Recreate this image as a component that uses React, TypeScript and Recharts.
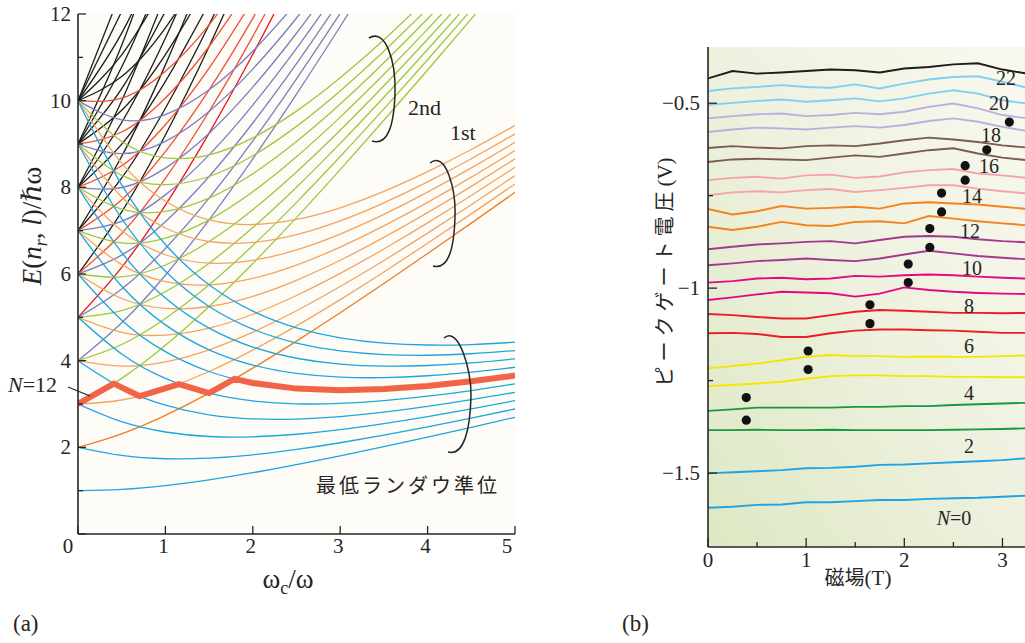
import React from "react";
import { LineChart, ComposedChart, Line, Scatter, XAxis, YAxis, CartesianGrid } from "recharts";

// ---------- panel (a): E(n_r, l)/hbar-omega vs omega_c/omega ----------
const omegaRatio = [0, 0.5, 1, 1.5, 2, 2.5, 3, 3.5, 4, 4.5, 5];

// lowest Landau level (cyan)
const level0 = [
  [1, 1.031, 1.118, 1.25, 1.414, 1.601, 1.803, 2.016, 2.236, 2.462, 2.693],
  [2, 1.812, 1.736, 1.75, 1.828, 1.952, 2.106, 2.281, 2.472, 2.674, 2.885],
  [3, 2.592, 2.354, 2.25, 2.243, 2.302, 2.408, 2.547, 2.708, 2.887, 3.078],
  [4, 3.373, 2.972, 2.75, 2.657, 2.653, 2.711, 2.812, 2.944, 3.099, 3.27],
  [5, 4.154, 3.59, 3.25, 3.071, 3.004, 3.014, 3.078, 3.18, 3.311, 3.463],
  [6, 4.935, 4.208, 3.75, 3.485, 3.355, 3.317, 3.344, 3.416, 3.523, 3.656],
  [7, 5.716, 4.826, 4.25, 3.899, 3.706, 3.62, 3.609, 3.652, 3.735, 3.848],
  [8, 6.496, 5.444, 4.75, 4.314, 4.056, 3.922, 3.875, 3.889, 3.948, 4.041],
  [9, 7.277, 6.062, 5.25, 4.728, 4.407, 4.225, 4.141, 4.125, 4.16, 4.233],
  [10, 8.058, 6.68, 5.75, 5.142, 4.758, 4.528, 4.406, 4.361, 4.372, 4.426],
];

// 1st level (orange); first one is the darker l = -1 branch
const level1 = [
  [2, 2.312, 2.736, 3.25, 3.828, 4.452, 5.106, 5.781, 6.472, 7.174, 7.885],
  [3, 3.092, 3.354, 3.75, 4.243, 4.802, 5.408, 6.047, 6.708, 7.387, 8.078],
  [4, 3.873, 3.972, 4.25, 4.657, 5.153, 5.711, 6.312, 6.944, 7.599, 8.27],
  [5, 4.654, 4.59, 4.75, 5.071, 5.504, 6.014, 6.578, 7.18, 7.811, 8.463],
  [6, 5.435, 5.208, 5.25, 5.485, 5.855, 6.317, 6.844, 7.416, 8.023, 8.656],
  [7, 6.216, 5.826, 5.75, 5.899, 6.206, 6.62, 7.109, 7.652, 8.235, 8.848],
  [8, 6.996, 6.444, 6.25, 6.314, 6.556, 6.922, 7.375, 7.889, 8.448, 9.041],
  [9, 7.777, 7.062, 6.75, 6.728, 6.907, 7.225, 7.641, 8.125, 8.66, 9.233],
  [10, 8.558, 7.68, 7.25, 7.142, 7.258, 7.528, 7.906, 8.361, 8.872, 9.426],
];

// 2nd level (green)
const level2 = [
  [3, 3.592, 4.354, 5.25, 6.243, 7.302, 8.408, 9.547, 10.708, 11.887, 13.078],
  [4, 4.373, 4.972, 5.75, 6.657, 7.653, 8.711, 9.812, 10.944, 12.099],
  [5, 5.154, 5.59, 6.25, 7.071, 8.004, 9.014, 10.078, 11.18, 12.311],
  [6, 5.935, 6.208, 6.75, 7.485, 8.355, 9.317, 10.344, 11.416, 12.523],
  [7, 6.716, 6.826, 7.25, 7.899, 8.706, 9.62, 10.609, 11.652, 12.735],
  [8, 7.496, 7.444, 7.75, 8.314, 9.056, 9.922, 10.875, 11.889, 12.948],
  [9, 8.277, 8.062, 8.25, 8.728, 9.407, 10.225, 11.141, 12.125],
  [10, 9.058, 8.68, 8.75, 9.142, 9.758, 10.528, 11.406, 12.361],
];

// 3rd level (purple)
const level3 = [
  [4, 4.873, 5.972, 7.25, 8.657, 10.153, 11.711, 13.312],
  [5, 5.654, 6.59, 7.75, 9.071, 10.504, 12.014],
  [6, 6.435, 7.208, 8.25, 9.485, 10.855, 12.317],
  [7, 7.216, 7.826, 8.75, 9.899, 11.206, 12.62],
  [8, 7.996, 8.444, 9.25, 10.314, 11.556, 12.922],
  [9, 8.777, 9.062, 9.75, 10.728, 11.907, 13.225],
  [10, 9.558, 9.68, 10.25, 11.142, 12.258],
];

// 4th level (red); first one is the bright red branch
const level4 = [
  [5, 6.154, 7.59, 9.25, 11.071, 13.004],
  [6, 6.935, 8.208, 9.75, 11.485, 13.355],
  [7, 7.716, 8.826, 10.25, 11.899, 13.706],
  [8, 8.496, 9.444, 10.75, 12.314],
  [9, 9.277, 10.062, 11.25, 12.728],
  [10, 10.058, 10.68, 11.75, 13.142],
];

// higher levels (black)
const levelHigh = [
  [6, 7.435, 9.208, 11.25, 13.485],
  [7, 8.216, 9.826, 11.75, 13.899],
  [8, 8.996, 10.444, 12.25],
  [9, 9.777, 11.062, 12.75],
  [10, 10.558, 11.68, 13.25],
  [7, 8.716, 10.826, 13.25],
  [8, 9.496, 11.444, 13.75],
  [9, 10.277, 12.062],
  [10, 11.058, 12.68],
  [8, 9.996, 12.444],
  [9, 10.777, 13.062],
  [10, 11.558, 13.68],
  [9, 11.277, 14.062],
  [10, 12.058],
  [10, 12.558],
];

// N = 12 addition energy (thick line)
const n12Ratio = [0, 0.41, 0.707, 1.155, 1.5, 1.79, 2, 2.5, 3, 3.5, 4, 4.5, 5];
const n12Energy = [3, 3.47, 3.18, 3.46, 3.25, 3.58, 3.485, 3.355, 3.317, 3.344, 3.416, 3.523, 3.656];

// ---------- panel (b): peak gate voltage vs field ----------
const fieldT = [0, 0.25, 0.5, 0.75, 1, 1.25, 1.5, 1.75, 2, 2.25, 2.5, 2.75, 3, 3.25];

// index = N (0 .. 22)
const peakVoltage = [
  [-1.594, -1.591, -1.586, -1.585, -1.579, -1.579, -1.576, -1.573, -1.573, -1.57, -1.568, -1.567, -1.564, -1.561],
  [-1.501, -1.498, -1.495, -1.492, -1.487, -1.486, -1.483, -1.478, -1.477, -1.474, -1.471, -1.468, -1.465, -1.46],
  [-1.384, -1.384, -1.383, -1.384, -1.384, -1.383, -1.384, -1.384, -1.384, -1.384, -1.383, -1.382, -1.381, -1.379],
  [-1.332, -1.328, -1.323, -1.323, -1.323, -1.323, -1.321, -1.321, -1.319, -1.319, -1.316, -1.314, -1.312, -1.31],
  [-1.265, -1.262, -1.258, -1.253, -1.245, -1.238, -1.236, -1.236, -1.238, -1.238, -1.24, -1.24, -1.241, -1.241],
  [-1.217, -1.211, -1.204, -1.195, -1.186, -1.181, -1.184, -1.184, -1.186, -1.185, -1.186, -1.186, -1.184, -1.182],
  [-1.122, -1.121, -1.124, -1.132, -1.132, -1.122, -1.115, -1.112, -1.112, -1.114, -1.115, -1.118, -1.121, -1.121],
  [-1.07, -1.073, -1.078, -1.082, -1.082, -1.073, -1.064, -1.059, -1.061, -1.064, -1.067, -1.067, -1.068, -1.067],
  [-1.032, -1.025, -1.017, -1.01, -1.012, -1.014, -1.023, -1.015, -0.998, -1.005, -1.01, -1.013, -1.015, -1.016],
  [-0.985, -0.981, -0.974, -0.972, -0.976, -0.974, -0.967, -0.969, -0.965, -0.963, -0.965, -0.969, -0.972, -0.974],
  [-0.938, -0.933, -0.927, -0.924, -0.92, -0.924, -0.927, -0.92, -0.909, -0.899, -0.906, -0.913, -0.918, -0.922],
  [-0.895, -0.888, -0.882, -0.879, -0.875, -0.873, -0.879, -0.87, -0.861, -0.859, -0.861, -0.868, -0.873, -0.876],
  [-0.834, -0.843, -0.834, -0.821, -0.83, -0.832, -0.821, -0.819, -0.825, -0.805, -0.812, -0.819, -0.825, -0.83],
  [-0.786, -0.801, -0.792, -0.778, -0.785, -0.783, -0.78, -0.785, -0.771, -0.768, -0.771, -0.774, -0.78, -0.786],
  [-0.749, -0.741, -0.738, -0.741, -0.735, -0.732, -0.74, -0.735, -0.729, -0.722, -0.722, -0.731, -0.738, -0.744],
  [-0.708, -0.702, -0.699, -0.704, -0.695, -0.693, -0.702, -0.698, -0.687, -0.681, -0.678, -0.69, -0.695, -0.702],
  [-0.659, -0.652, -0.65, -0.652, -0.654, -0.647, -0.641, -0.645, -0.636, -0.627, -0.622, -0.636, -0.647, -0.654],
  [-0.621, -0.616, -0.62, -0.622, -0.616, -0.614, -0.616, -0.609, -0.6, -0.593, -0.598, -0.605, -0.614, -0.62],
  [-0.578, -0.571, -0.566, -0.568, -0.571, -0.566, -0.562, -0.566, -0.559, -0.548, -0.541, -0.55, -0.564, -0.575],
  [-0.541, -0.535, -0.53, -0.528, -0.535, -0.532, -0.526, -0.53, -0.523, -0.51, -0.501, -0.514, -0.532, -0.541],
  [-0.505, -0.499, -0.494, -0.49, -0.496, -0.492, -0.487, -0.495, -0.487, -0.474, -0.465, -0.474, -0.492, -0.501],
  [-0.467, -0.46, -0.456, -0.451, -0.456, -0.458, -0.449, -0.46, -0.447, -0.436, -0.429, -0.427, -0.442, -0.458],
  [-0.433, -0.413, -0.42, -0.417, -0.413, -0.409, -0.411, -0.417, -0.406, -0.402, -0.395, -0.392, -0.409, -0.42],
];

// black dots
const dotT = [0.39, 0.39, 1.02, 1.02, 1.65, 1.65, 2.04, 2.04, 2.26, 2.26, 2.38, 2.38, 2.62, 2.62, 2.84, 3.07];
const dotV = [-1.296, -1.357, -1.17, -1.22, -1.045, -1.096, -0.935, -0.985, -0.839, -0.89, -0.743, -0.794, -0.669, -0.708, -0.626, -0.551];

// trace labels
const traceLabels = ["22", "20", "18", "16", "14", "12", "10", "8", "6", "4", "2"];

// ---------- styles ----------
const serif = '"Liberation Serif", "DejaVu Serif", "Times New Roman", serif';
const jp = '"Noto Sans CJK JP", sans-serif';
const ink = "#262626";
const frame = { stroke: ink, strokeWidth: 1.6 };
const serifStyle = { fontFamily: serif };
const jpStyle = { fontFamily: jp };

const levelColors = {
  cyan: "#1ba6e0",
  orange: "#f5a35e",
  darkOrange: "#ef7b22",
  green: "#9cc83e",
  purple: "#7b7ec2",
  red: "#ee5038",
  brightRed: "#e8141d",
  black: "#1c1c1c",
};
const pairColors = [
  "#1ea4e6", "#16993f", "#f6e500", "#ed1c24", "#e5097f", "#a3398f",
  "#f5821f", "#f5a3aa", "#7b5b52", "#b7b1dd", "#80d0f2", "#1c1c1c",
];

const toPoints = (ys: number[]) => ys.map((y, i) => ({ x: omegaRatio[i], y }));

// ---------- ticks ----------
function TickLeftA(p: any) {
  const v = p.payload.value;
  const major = v % 2 === 0;
  return (
    <g>
      <line x1={p.x} x2={p.x + (major ? 8 : 5)} y1={p.y} y2={p.y} stroke={ink} strokeWidth={1.3} />
      {major && v > 0 ? (
        <text x={p.x - 7} y={p.y + 7} textAnchor="end" fontSize={21} style={serifStyle} fill={ink}>
          {v}
        </text>
      ) : null}
    </g>
  );
}
function TickBottomA(p: any) {
  const v = p.payload.value;
  const shift = v === 0 ? -10 : v === 5 ? -8 : -2;
  return (
    <g>
      <line x1={p.x} x2={p.x} y1={p.y} y2={p.y - 8} stroke={ink} strokeWidth={1.3} />
      <text x={p.x + shift} y={p.y + 19} textAnchor="middle" fontSize={21} style={serifStyle} fill={ink}>
        {v}
      </text>
    </g>
  );
}
function TickTopA(p: any) {
  return <line x1={p.x} x2={p.x} y1={p.y} y2={p.y + 8} stroke={ink} strokeWidth={1.3} />;
}
function TickRightA(p: any) {
  return <line x1={p.x} x2={p.x - 7} y1={p.y} y2={p.y} stroke={ink} strokeWidth={1.3} />;
}

const isHalf = (v: number) => Math.abs(v * 2 - Math.round(v * 2)) < 1e-6;
const isWhole = (v: number) => Math.abs(v - Math.round(v)) < 1e-6;

function TickLeftB(p: any) {
  const v = p.payload.value;
  const major = isHalf(v);
  return (
    <g>
      <line x1={p.x} x2={p.x + (major ? 9 : 5)} y1={p.y} y2={p.y} stroke={ink} strokeWidth={1.3} />
      {major ? (
        <text x={p.x - 8} y={p.y + 7} textAnchor="end" fontSize={21} style={serifStyle} fill={ink}>
          {"\u2212" + Math.abs(v)}
        </text>
      ) : null}
    </g>
  );
}
function TickBottomB(p: any) {
  const v = p.payload.value;
  const major = isWhole(v);
  return (
    <g>
      <line x1={p.x} x2={p.x} y1={p.y} y2={p.y - (major ? 9 : 5)} stroke={ink} strokeWidth={1.3} />
      {major ? (
        <text x={p.x} y={p.y + 20} textAnchor="middle" fontSize={21} style={serifStyle} fill={ink}>
          {v}
        </text>
      ) : null}
    </g>
  );
}
function TickTopB(p: any) {
  return <line x1={p.x} x2={p.x} y1={p.y} y2={p.y + 6} stroke={ink} strokeWidth={1.3} />;
}
function TickRightB(p: any) {
  const major = isHalf(p.payload.value);
  return <line x1={p.x} x2={p.x - (major ? 9 : 5)} y1={p.y} y2={p.y} stroke={ink} strokeWidth={1.3} />;
}

const Dot = (p: any) => <circle cx={p.cx} cy={p.cy} r={4.6} fill="#111" />;

function PanelA() {
  const groups: { rows: number[][]; color: (i: number) => string }[] = [
    { rows: levelHigh, color: () => levelColors.black },
    { rows: level4, color: (i) => (i === 0 ? levelColors.brightRed : levelColors.red) },
    { rows: level3, color: () => levelColors.purple },
    { rows: level2, color: () => levelColors.green },
    { rows: level1, color: (i) => (i === 0 ? levelColors.darkOrange : levelColors.orange) },
    { rows: level0, color: () => levelColors.cyan },
  ];
  return (
    <LineChart width={530} height={643} margin={{ top: 14, right: 15, bottom: 79, left: 28 }}>
      <CartesianGrid horizontal={false} vertical={false} fill="#fdfcf7" />
      <XAxis
        dataKey="x" type="number" domain={[0, 5]} ticks={[0, 1, 2, 3, 4, 5]} interval={0}
        height={30} tickSize={0} tickMargin={0} tickLine={false} axisLine={frame}
        tick={(p: any) => <TickBottomA {...p} />} allowDataOverflow
      />
      <XAxis
        xAxisId="top" orientation="top" type="number" domain={[0, 5]} ticks={[1, 2, 3, 4]} interval={0}
        height={0} tickSize={0} tickMargin={0} tickLine={false} axisLine={frame}
        tick={(p: any) => <TickTopA {...p} />} allowDataOverflow
      />
      <YAxis
        type="number" domain={[0, 12]} ticks={[0, 1, 2, 3, 4, 5, 6, 7, 8, 9, 10, 11, 12]} interval={0}
        width={50} tickSize={0} tickMargin={0} tickLine={false} axisLine={frame}
        tick={(p: any) => <TickLeftA {...p} />} allowDataOverflow
      />
      <YAxis
        yAxisId="right" orientation="right" type="number" domain={[0, 12]}
        ticks={[1, 2, 3, 4, 5, 6, 7, 8, 9, 10, 11]} interval={0}
        width={0} tickSize={0} tickMargin={0} tickLine={false} axisLine={frame}
        tick={(p: any) => <TickRightA {...p} />} allowDataOverflow
      />
      {groups.map((g, gi) =>
        g.rows.map((row, i) => (
          <Line
            key={`g${gi}-${i}`}
            data={toPoints(row)}
            dataKey="y"
            type="natural"
            stroke={g.color(i)}
            strokeWidth={1.3}
            dot={false}
            activeDot={false}
            isAnimationActive={false}
          />
        ))
      )}
      <Line
        data={n12Ratio.map((x, i) => ({ x, y: n12Energy[i] }))}
        dataKey="y"
        type="linear"
        stroke="#f26448"
        strokeWidth={6}
        strokeLinejoin="round"
        dot={false}
        activeDot={false}
        isAnimationActive={false}
      />
    </LineChart>
  );
}

function PanelB() {
  return (
    <ComposedChart width={440} height={643} margin={{ top: 47, right: 13, bottom: 66, left: 48 }}>
      <defs>
        <linearGradient id="bgB" x1="1" y1="0" x2="0" y2="1">
          <stop offset="0" stopColor="#f9f9f0" />
          <stop offset="0.5" stopColor="#eef1de" />
          <stop offset="1" stopColor="#dde8c3" />
        </linearGradient>
      </defs>
      <CartesianGrid horizontal={false} vertical={false} fill="url(#bgB)" />
      <XAxis
        dataKey="t" type="number" domain={[0, 3.25]} ticks={[0, 0.5, 1, 1.5, 2, 2.5, 3]} interval={0}
        height={30} tickSize={0} tickMargin={0} tickLine={false} axisLine={frame}
        tick={(p: any) => <TickBottomB {...p} />} allowDataOverflow
      />
      <XAxis
        xAxisId="top" orientation="top" type="number" domain={[0, 3.25]} ticks={[0.5, 1, 1.5, 2, 2.5, 3]}
        interval={0} height={0} tickSize={0} tickMargin={0} tickLine={false} axisLine={frame}
        tick={(p: any) => <TickTopB {...p} />} allowDataOverflow
      />
      <YAxis
        dataKey="v" type="number" domain={[-1.7, -0.348]} ticks={[-1.5, -1.25, -1, -0.75, -0.5]} interval={0}
        width={60} tickSize={0} tickMargin={0} tickLine={false} axisLine={frame}
        tick={(p: any) => <TickLeftB {...p} />} allowDataOverflow
      />
      <YAxis
        yAxisId="right" orientation="right" type="number" domain={[-1.7, -0.348]}
        ticks={[-1.5, -1.25, -1, -0.75, -0.5]} interval={0}
        width={0} tickSize={0} tickMargin={0} tickLine={false} axisLine={frame}
        tick={(p: any) => <TickRightB {...p} />} allowDataOverflow
      />
      {peakVoltage.map((row, n) => (
        <Line
          key={`n${n}`}
          data={fieldT.map((t, i) => ({ t, v: row[i] }))}
          dataKey="v"
          type="linear"
          stroke={pairColors[Math.floor(n / 2)]}
          strokeWidth={1.9}
          dot={false}
          activeDot={false}
          isAnimationActive={false}
        />
      ))}
      <Scatter
        data={dotT.map((t, i) => ({ t, v: dotV[i] }))}
        shape={(p: any) => <Dot {...p} />}
        isAnimationActive={false}
      />
    </ComposedChart>
  );
}

// annotation text positions (page pixels)
const labelPos = [
  [1006, 85], [999, 110], [991, 142], [989, 173], [972, 203], [970, 238],
  [972, 275], [969, 313], [969, 353], [969, 400], [969, 453],
];

function Overlay() {
  return (
    <svg width={1025} height={643} style={{ position: "absolute", left: 0, top: 0, pointerEvents: "none" }}>
      {/* panel (a) titles */}
      <text transform="translate(41,226) rotate(-90)" textAnchor="middle" fontSize={27} style={serifStyle} fill={ink}>
        <tspan fontStyle="italic">E</tspan>(<tspan fontStyle="italic">n</tspan>
        <tspan fontStyle="italic" fontSize={18} dy={6}>r</tspan>
        <tspan dy={-6}>, </tspan>
        <tspan fontStyle="italic">l</tspan>)/<tspan fontStyle="italic">ℏ</tspan>ω
      </text>
      <text x={288} y={588} textAnchor="middle" fontSize={27} style={serifStyle} fill={ink}>
        ω<tspan fontSize={18} dy={6}>c</tspan>
        <tspan dy={-6}>/ω</tspan>
      </text>
      <text x={13} y={631} fontSize={23} style={serifStyle} fill={ink}>(a)</text>

      {/* panel (a) annotations */}
      <text x={408} y={115} fontSize={22} style={serifStyle} fill={ink}>2nd</text>
      <text x={450} y={140} fontSize={22} style={serifStyle} fill={ink}>1st</text>
      <path d="M369,38 C385,28 396,60 395,93 C394,125 388,146 372,141" fill="none" stroke={ink} strokeWidth={1.5} />
      <path d="M430,163 C446,150 456,190 455,217 C454,250 448,270 433,266" fill="none" stroke={ink} strokeWidth={1.5} />
      <path d="M444,338 C458,325 472,370 471,397 C470,430 464,456 448,452" fill="none" stroke={ink} strokeWidth={1.5} />
      <text x={408} y={493} textAnchor="middle" fontSize={20} letterSpacing={3} style={jpStyle} fill={ink}>
        最低ランダウ準位
      </text>
      <text x={8} y={392} fontSize={22} style={serifStyle} fill={ink}>
        <tspan fontStyle="italic">N</tspan>=12
      </text>
      <line x1={68} y1={387} x2={90} y2={396} stroke={ink} strokeWidth={1.3} />

      {/* panel (b) titles */}
      <text transform="translate(672,272) rotate(-90)" textAnchor="middle" fontSize={20} letterSpacing={5} style={jpStyle} fill={ink}>
        ピークゲート電圧<tspan style={serifStyle} fontSize={21} letterSpacing={0}>(V)</tspan>
      </text>
      <text x={858} y={585} textAnchor="middle" fontSize={20} style={jpStyle} fill={ink}>
        磁場<tspan style={serifStyle} fontSize={21}>(T)</tspan>
      </text>
      <text x={622} y={631} fontSize={23} style={serifStyle} fill={ink}>(b)</text>

      {/* trace labels */}
      {traceLabels.map((s, i) => (
        <text key={s} x={labelPos[i][0]} y={labelPos[i][1]} textAnchor="middle" fontSize={20} style={serifStyle} fill={ink}>
          {s}
        </text>
      ))}
      <text x={954} y={525} textAnchor="middle" fontSize={20} style={serifStyle} fill={ink}>
        <tspan fontStyle="italic">N</tspan>=0
      </text>
    </svg>
  );
}

export default function App() {
  return (
    <div style={{ position: "fixed", left: 0, top: 0, width: 1025, height: 643, overflow: "hidden", background: "#fff" }}>
      <div style={{ position: "absolute", left: 0, top: 0 }}>
        <PanelA />
      </div>
      <div style={{ position: "absolute", left: 600, top: 0 }}>
        <PanelB />
      </div>
      <Overlay />
    </div>
  );
}
